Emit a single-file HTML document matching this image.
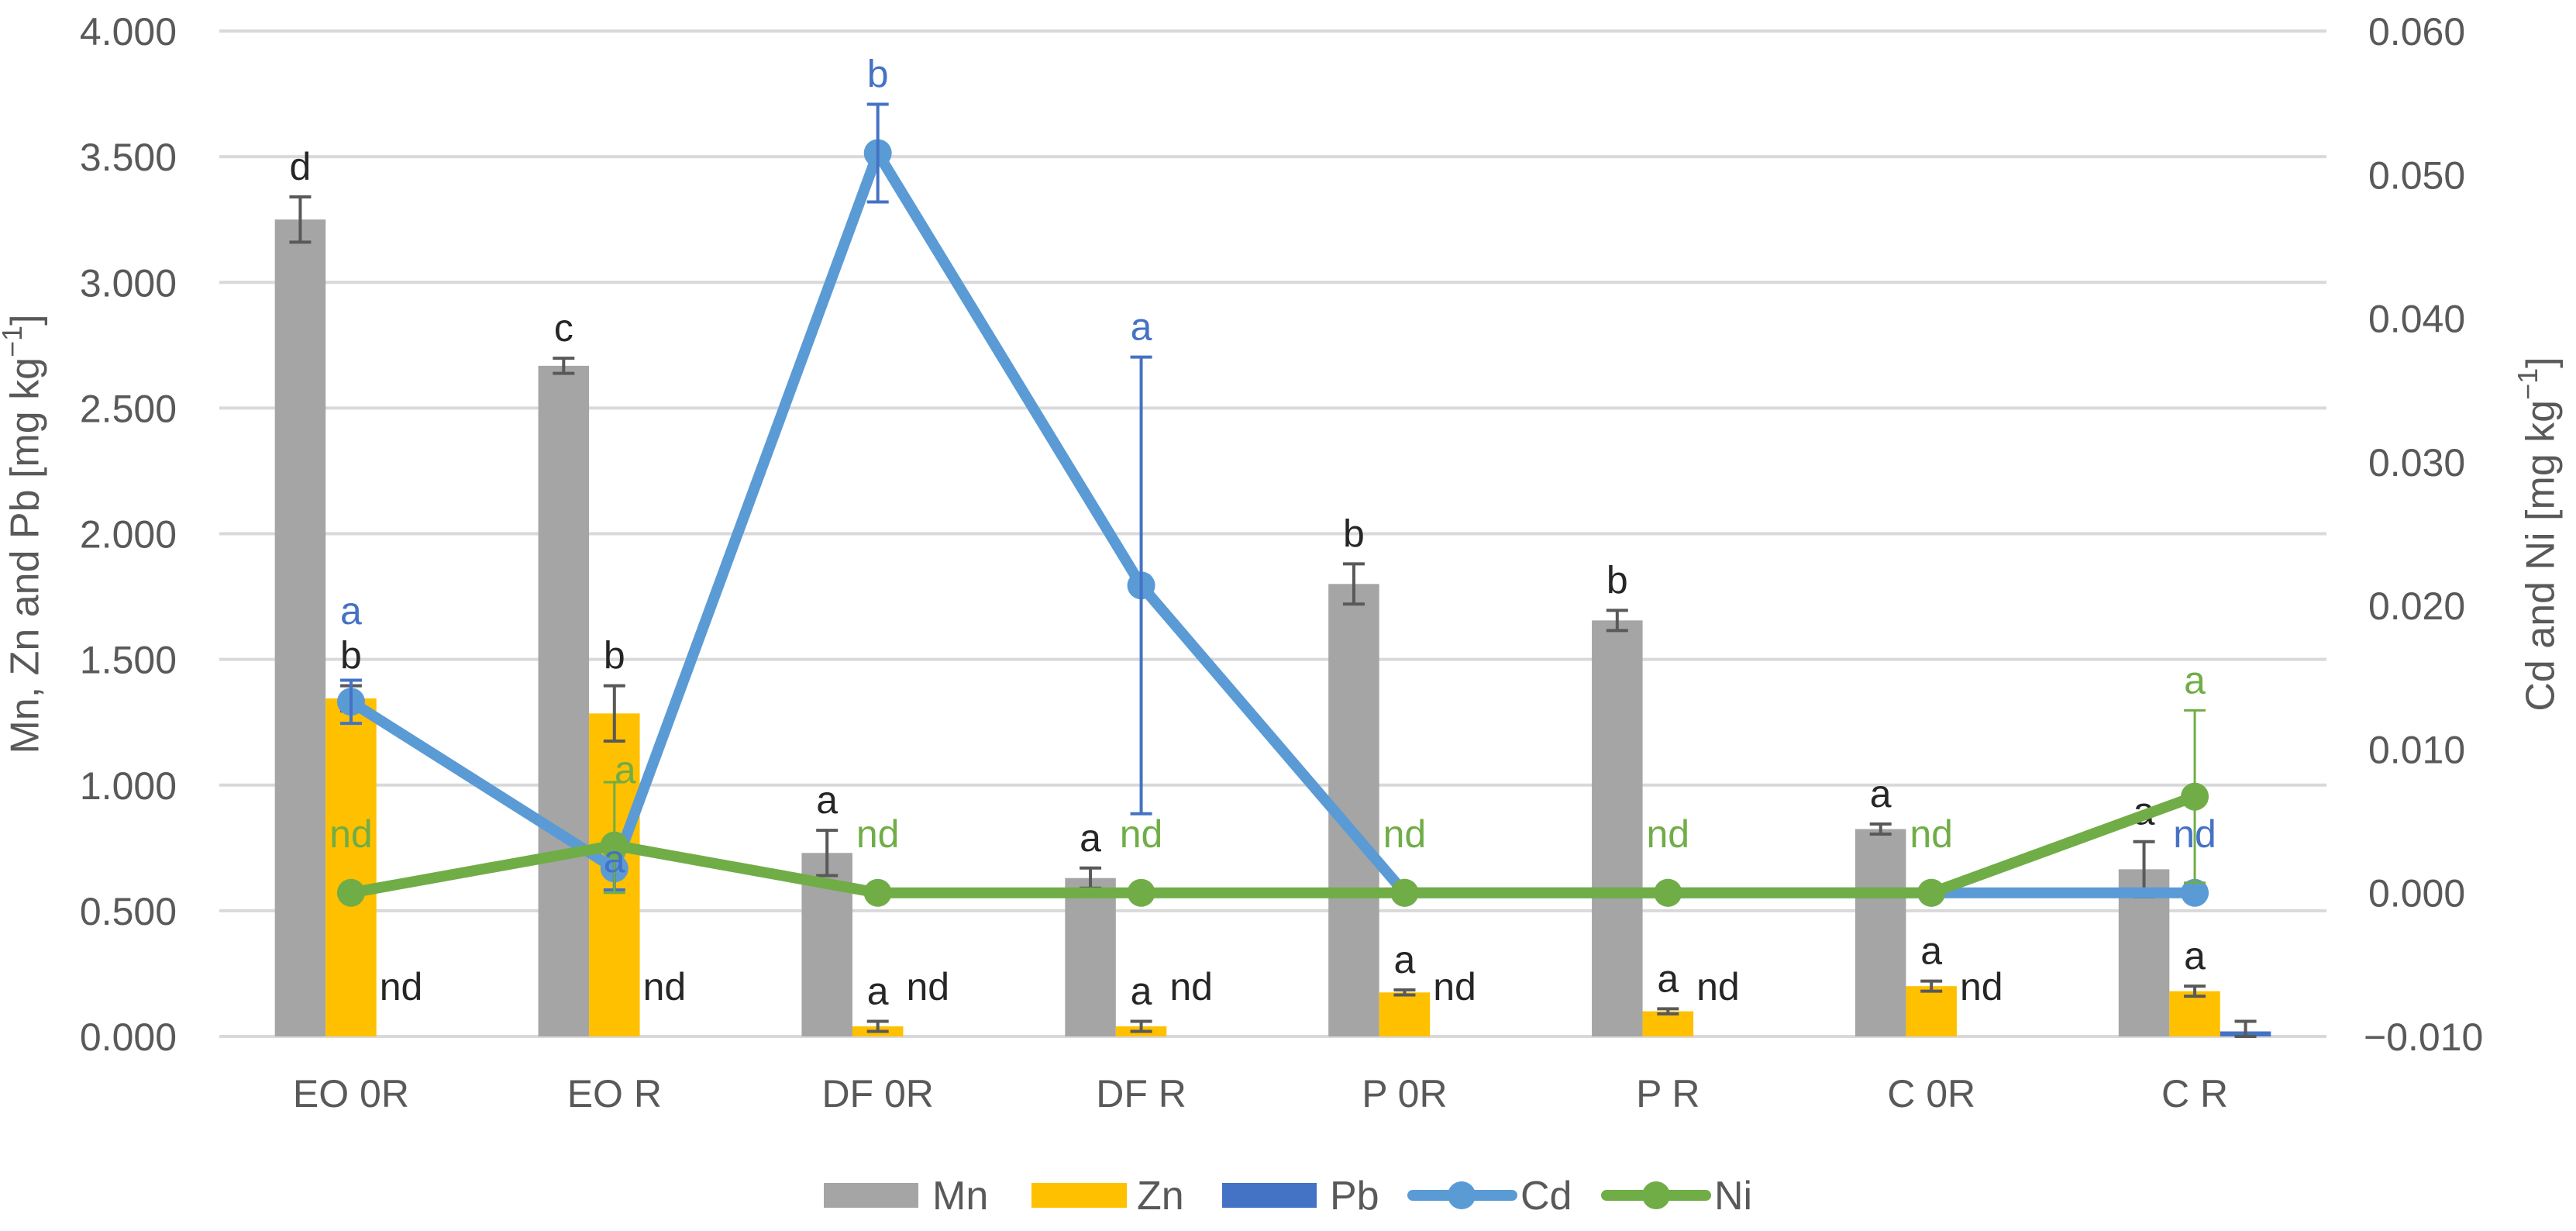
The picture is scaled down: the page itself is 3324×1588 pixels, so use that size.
<!DOCTYPE html>
<html><head><meta charset="utf-8"><style>
html,body{margin:0;padding:0;background:#fff;}
svg{display:block;font-family:"Liberation Sans",sans-serif;}
</style></head><body>
<svg id="chart" width="3324" height="1588" viewBox="0 0 3324 1588" xmlns="http://www.w3.org/2000/svg"></svg>
<script>
const categories=["EO 0R","EO R","DF 0R","DF R","P 0R","P R","C 0R","C R"];
const mnValues=[3.25,2.668,0.73,0.63,1.80,1.655,0.825,0.665];
const mnErr=[0.09,0.03,0.09,0.04,0.08,0.04,0.02,0.11];
const mnLetters=["d","c","a","a","b","b","a","a"];
const znValues=[1.345,1.285,0.04,0.04,0.175,0.10,0.20,0.18];
const znErr=[0.05,0.11,0.02,0.02,0.01,0.01,0.02,0.02];
const znLetters=["b","b","a","a","a","a","a","a"];
const pbValues=[0,0,0,0,0,0,0,0.02];
const pbErr=[0,0,0,0,0,0,0,0.04];
const pbLetters=["nd","nd","nd","nd","nd","nd","nd",""];
const cdValues=[0.0133,0.0017,0.0515,0.0214,0,0,0,0];
const cdErr=[0.0015,0.0015,0.0034,0.0159,0,0,0,0];
const cdLetters=["a","a","b","a","","","","nd"];
const niValues=[0,0.0033,0,0,0,0,0,0.0067];
const niErr=[0,0.0044,0,0,0,0,0,0.006];
const niLetters=["nd","a","nd","nd","nd","nd","nd","a"];
const leftTicks=["0.000","0.500","1.000","1.500","2.000","2.500","3.000","3.500","4.000"];
const rightTicks=["-0.010","0.000","0.010","0.020","0.030","0.040","0.050","0.060"];

const NS="http://www.w3.org/2000/svg";
const svg=document.getElementById('chart');
const X0=283,X1=3002,YT=40,YB=1337;
const band=(X1-X0)/categories.length;
const yL=v=>YB-(v-0)/(4-0)*(YB-YT);
const yR=v=>YB-(v+0.01)/(0.07)*(YB-YT);
const xC=i=>X0+band*(i+0.5);
const BW=65.5;
function mk(tag,attrs,parent){const e=document.createElementNS(NS,tag);for(const k in attrs)e.setAttribute(k,attrs[k]);(parent||svg).appendChild(e);return e;}
function txt(s,x,y,size,fill,anchor,parent){const t=mk('text',{x:x,y:y,'font-size':size,fill:fill,'text-anchor':anchor||'middle'},parent);t.textContent=s;return t;}

leftTicks.forEach((s,i)=>{
  const v=parseFloat(s);
  const g=mk('line',{x1:X0,x2:X1,y1:yL(v),y2:yL(v),stroke:'#D9D9D9','stroke-width':4});
  
  
  const t=txt(s,228,yL(v)+18,50,'#595959','end');
  
  
});
rightTicks.forEach(s=>{
  const v=parseFloat(s);
  const t=txt(s.replace('-','\u2212'),s[0]==='-'?3050:3056,yR(v)+18,50,'#595959','start');
  
  
});
categories.forEach((c,i)=>{
  const t=txt(c,xC(i),1428,50,'#595959');
  
  
});

function errBar(x,yTop,yBot,color,w){
  const g=mk('g',{stroke:color,'stroke-width':w||4});
  
  
  mk('line',{x1:x,x2:x,y1:yTop,y2:yBot},g);
  mk('line',{x1:x-14,x2:x+14,y1:yTop,y2:yTop},g);
  mk('line',{x1:x-14,x2:x+14,y1:yBot,y2:yBot},g);
}
const series=[[mnValues,mnErr,'#A5A5A5',-1,'mn'],[znValues,znErr,'#FFC000',0,'zn'],[pbValues,pbErr,'#4472C4',1,'pb']];
series.forEach(([vals,errs,col,off,nm])=>{
  vals.forEach((v,i)=>{
    const cx=xC(i)+off*BW;
    if(v>0){
      const r=mk('rect',{x:cx-BW/2,y:yL(v),width:BW,height:YB-yL(v),fill:col});
      
      
    }
  });
});
series.forEach(([vals,errs,col,off,nm])=>{
  vals.forEach((v,i)=>{
    const cx=xC(i)+off*BW;
    if(errs[i]>0) errBar(cx,yL(v+errs[i]),yL(Math.max(0,v-errs[i])),'#595959');
  });
});
mnValues.forEach((v,i)=>{const t=txt(mnLetters[i],xC(i)-BW,yL(v+mnErr[i])-22,50,'#262626');});
znValues.forEach((v,i)=>{const t=txt(znLetters[i],xC(i),yL(v+znErr[i])-22,50,'#262626');});
pbLetters.forEach((s,i)=>{if(!s)return;const t=txt(s,xC(i)+BW/2+4,1290,50,'#262626','start');});

function lineSeries(vals,errs,col,nm){
  const pts=vals.map((v,i)=>xC(i)+','+yR(v)).join(' ');
  const p=mk('polyline',{points:pts,fill:'none',stroke:col,'stroke-width':14,'stroke-linejoin':'round'});
  
  
  vals.forEach((v,i)=>{
    const c=mk('circle',{cx:xC(i),cy:yR(v),r:18,fill:col});
    
    
  });
}
lineSeries(cdValues,cdErr,'#5B9BD5','cd');
cdValues.forEach((v,i)=>{if(cdErr[i]>0)errBar(xC(i),yR(v+cdErr[i]),yR(v-cdErr[i]),'#4472C4');});
lineSeries(niValues,niErr,'#70AD47','ni');
niValues.forEach((v,i)=>{if(niErr[i]>0)errBar(xC(i),yR(v+niErr[i]),yR(Math.max(0,v-niErr[i])),'#70AD47',3);});
cdLetters.forEach((s,i)=>{if(!s)return;
  let y=yR(cdValues[i]+cdErr[i])-22; if(s==='nd')y=1093; if(i===1)y=1125; if(i===0)y=805;
  const t=txt(s,xC(i),y,50,'#4472C4');});
niLetters.forEach((s,i)=>{
  let y= s==='nd'?1093:yR(niValues[i]+niErr[i])-22; let x=xC(i); if(i===1){x+=14;y=1010;}
  const t=txt(s,x,y,50,'#70AD47');});

const lt=txt('',36,689,52,'#595959');
lt.setAttribute('transform','rotate(-90 36 689)');lt.setAttribute('dominant-baseline','middle');
lt.innerHTML='Mn, Zn and Pb [mg kg<tspan dy="-18" font-size="36">−1</tspan><tspan dy="18">]</tspan>';


const rt=txt('',3282,689,52,'#595959');
rt.setAttribute('transform','rotate(-90 3282 689)');rt.setAttribute('dominant-baseline','middle');
rt.innerHTML='Cd and Ni [mg kg<tspan dy="-18" font-size="36">−1</tspan><tspan dy="18">]</tspan>';


</script>
<svg style="position:absolute;left:0;top:0" width="3324" height="1588" xmlns="http://www.w3.org/2000/svg" font-family="Liberation Sans, sans-serif">
 <g><rect x="1063" y="1526" width="122" height="32" fill="#A5A5A5"/><text x="1203" y="1560" font-size="52" fill="#595959">Mn</text></g>
 <g><rect x="1331" y="1526" width="123" height="32" fill="#FFC000"/><text x="1467" y="1560" font-size="52" fill="#595959">Zn</text></g>
 <g><rect x="1577" y="1526" width="122" height="32" fill="#4472C4"/><text x="1716" y="1560" font-size="52" fill="#595959">Pb</text></g>
 <g><line x1="1823" y1="1542" x2="1951" y2="1542" stroke="#5B9BD5" stroke-width="14" stroke-linecap="round"/><circle cx="1886" cy="1542" r="18" fill="#5B9BD5"/><text x="1962" y="1560" font-size="52" fill="#595959">Cd</text></g>
 <g><line x1="2073" y1="1542" x2="2201" y2="1542" stroke="#70AD47" stroke-width="14" stroke-linecap="round"/><circle cx="2137" cy="1542" r="18" fill="#70AD47"/><text x="2212" y="1560" font-size="52" fill="#595959">Ni</text></g>
</svg>
</body></html>
